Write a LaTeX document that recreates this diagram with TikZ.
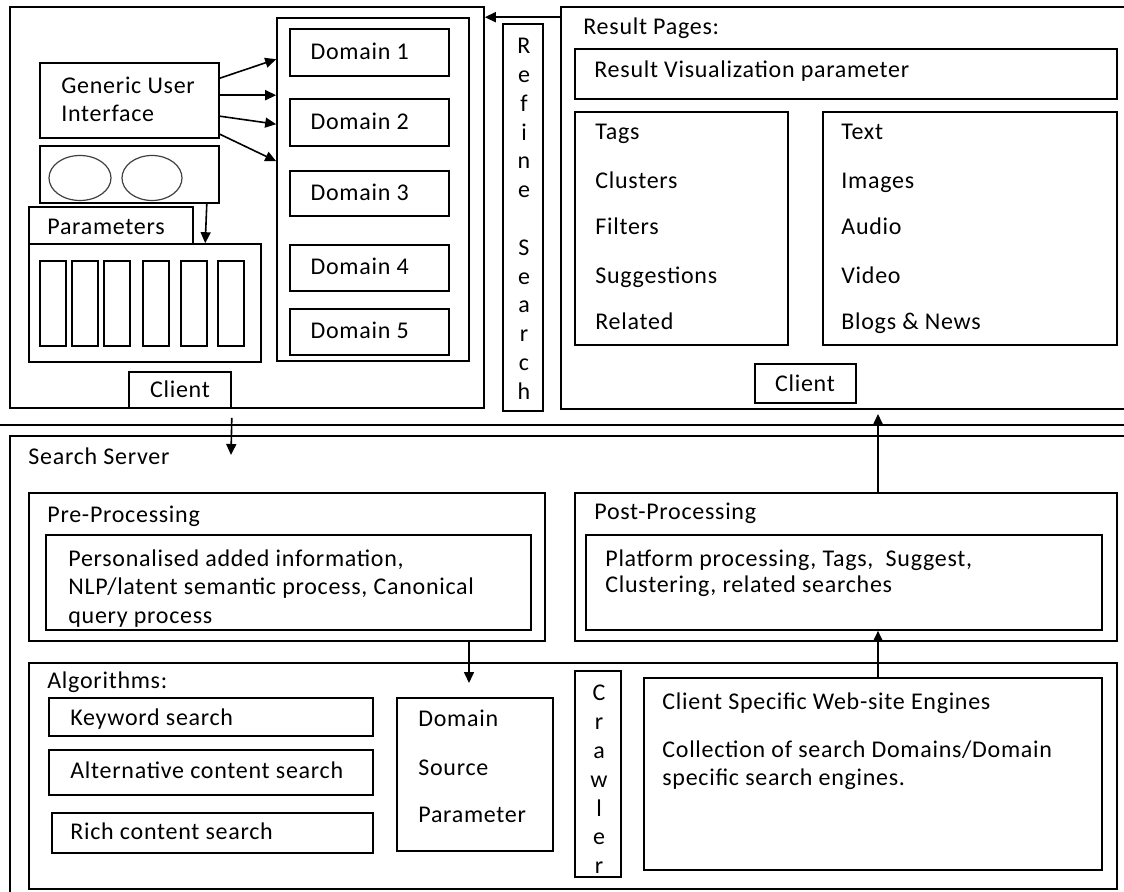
\documentclass[tikz,border=0pt]{standalone}
\usepackage{fontspec}
\setmainfont[LetterSpace=3]{Carlito}
\usetikzlibrary{arrows.meta,calc,fit}

\begin{document}
\begin{tikzpicture}[x=0.5pt, y=-0.5pt,
  box/.style={draw, line width=0.8pt, inner sep=0pt},
  arr/.style={line width=0.8pt, -{Triangle[length=5.5pt,width=5pt]}},
  lbl/.style={anchor=base west, inner sep=0pt, font=\fontsize{12}{14.4}\selectfont},
  para/.style={anchor=north west, inner sep=0pt, align=left, font=\fontsize{12}{14.4}\selectfont},
  letters/.style={anchor=north, inner sep=0pt, align=center, font=\fontsize{12}{14.4}\selectfont}]
  \useasboundingbox (0,0) rectangle (1124,892);

  % client, query side
  \node[box, fit={(10,7) (484,408)}] (cl) {};
  \node[box, fit={(277,18) (469,361)}] (doms) {};
  \foreach \i/\ya/\yb in {1/29/76, 2/99/146, 3/171/216, 4/245/291, 5/309/355} {
    \node[box, fit={(290,\ya) (449,\yb)}] (dom\i) {};
    \node[lbl] (dom\i txt) at ($(dom\i.west)+(21,7)$) {Domain \i};
  }
  \node[box, fit={(40,63) (219,138)}] (gui) {};
  \node[para] (guitxt) at (61,77) {Generic User\\[-0.4pt]Interface};
  \foreach \a/\b in {16/42, 33/78, 54/107, 72/144}
    \draw[arr] ($(gui.north east)+(0,\a)$) -- ($(doms.north west)+(0,\b)$);
  \node[box, fit={(40,146) (219,203)}] (ovl) {};
  \draw[line width=0.6pt, black!75] (80,178) ellipse [x radius=31, y radius=22.5];
  \draw[line width=0.6pt, black!75] (152,178) ellipse [x radius=30, y radius=22.5];
  \node[box, fit={(29,207) (193,244)}] (partab) {};
  \node[lbl] (partxt) at (47,235) {Parameters};
  \node[box, fit={(29,244) (261,362)}] (pars) {};
  \foreach \x in {40,72,104,143,181,218}
    \draw[line width=0.8pt] (\x,261) rectangle ++(26,85);
  \draw[arr] ($(ovl.south east)+(-13,0)$) -- ($(pars.north west)+(177,0)$);
  \node[box, fit={(129,372) (231,408)}] (client1) {};
  \node[lbl, anchor=base] (client1txt) at (180,398) {Client};

  % refine search
  \node[box, fit={(503,24) (543,411)}] (refine) {};
  \node[letters] (refinetxt) at (524,38) {R\\e\\f\\i\\n\\e\\[14.4pt]S\\e\\a\\r\\c\\h};

  % result pages
  \node[box, fit={(561,7) (1140,409)}] (res) {};
  \node[lbl] (restxt) at (583,35) {Result Pages:};
  \node[box, fit={(575,49) (1117,99)}] (rvp) {};
  \node[lbl] (rvptxt) at (594,78) {Result Visualization parameter};
  \node[box, fit={(575,112) (788,345)}] (tags) {};
  \node[box, fit={(823,112) (1117,345)}] (media) {};
  \foreach \t/\y in {Tags/133, Clusters/182, Filters/228, Suggestions/277, Related/323}
    \node[lbl] at (595,\y+7) {\t};
  \foreach \t/\y in {Text/133, Images/182, Audio/228, Video/277, Blogs \& News/323}
    \node[lbl] at (841,\y+7) {\t};
  \node[box, fit={(755,364) (856,403)}] (client2) {};
  \node[lbl, anchor=base] (client2txt) at (805,392) {Client};
  \draw[arr] ($(res.north west)+(0,11)$) -- ($(cl.north east)+(0,11)$);

  % search server
  \draw[line width=0.8pt] (0,425) -- (1124,425);
  \node[box, fit={(10,436) (1140,905)}] (srv) {};
  \node[lbl] (srvtxt) at (28,465) {Search Server};
  \coordinate (srvin) at (231,455);
  \draw[arr] ($(client1.south east)+(0,9)$) -- (srvin);

  \node[box, fit={(29,493) (545,641)}] (pre) {};
  \node[lbl] (pretxt) at (47,523) {Pre-Processing};
  \node[box, fit={(46,535) (531,630)}] (preinner) {};
  \node[para] (preinnertxt) at (68,549) {Personalised added information,\\NLP/latent semantic process, Canonical\\query process};

  \node[box, fit={(575,493) (1117,641)}] (post) {};
  \node[lbl] (posttxt) at (594,520) {Post-Processing};
  \node[box, fit={(586,535) (1102,630)}] (postinner) {};
  \node[para, font=\fontsize{12}{13}\selectfont] (postinnertxt) at (605,549) {Platform processing, Tags,\ \ Suggest,\\Clustering, related searches};

  \node[box, fit={(29,663) (1117,889)}] (algo) {};
  \node[lbl] (algotxt) at (47,688) {Algorithms:};
  \node[box, fit={(49,698) (373,736)}] (kw) {};
  \node[lbl] (kwtxt) at (70,725) {Keyword search};
  \node[box, fit={(49,750) (373,795)}] (alt) {};
  \node[lbl] (alttxt) at (70,778) {Alternative content search};
  \node[box, fit={(52,813) (373,853)}] (rich) {};
  \node[lbl] (richtxt) at (70,839) {Rich content search};
  \node[box, fit={(397,698) (553,851)}] (dsp) {};
  \foreach \t/\y in {Domain/719, Source/768, Parameter/815}
    \node[lbl] at (418,\y+7) {\t};
  \node[box, fit={(575,671) (621,877)}] (crawler) {};
  \node[letters] (crawlertxt) at (599,685) {C\\r\\a\\w\\l\\e\\r};
  \node[box, fit={(644,678) (1102,870)}] (cswe) {};
  \node[lbl] (cswetxt) at (662,709) {Client Specific Web-site Engines};
  \node[para] (collecttxt) at (662,740) {Collection of search Domains/Domain\\specific search engines.};

  % data flow
  \coordinate (algoin) at (469,683);
  \draw[arr] (pre.south -| algoin) -- (algoin);
  \coordinate (upx) at (878,0);
  \coordinate (resin) at (878,414);
  \draw[arr] (cswe.north -| upx) -- (postinner.south -| upx);
  \draw[arr] (post.north -| upx) -- (resin);
\end{tikzpicture}
\end{document}
